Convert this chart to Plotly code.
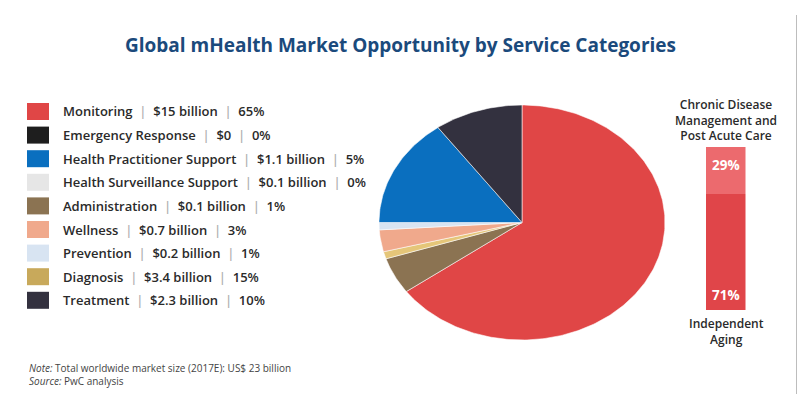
import numpy as np
import plotly.graph_objects as go

# ---------------- data ----------------
title_text = "Global mHealth Market Opportunity by Service Categories"

legend_names = ["Monitoring", "Emergency Response", "Health Practitioner Support",
                "Health Surveillance Support", "Administration", "Wellness",
                "Prevention", "Diagnosis", "Treatment"]
legend_amounts = ["$15 billion", "$0", "$1.1 billion", "$0.1 billion", "$0.1 billion",
                  "$0.7 billion", "$0.2 billion", "$3.4 billion", "$2.3 billion"]
legend_pcts = ["65%", "0%", "5%", "0%", "1%", "3%", "1%", "15%", "10%"]
legend_colors = ["#E04646", "#1E1E1E", "#0A6FBF", "#E6E6E6", "#8B7352",
                 "#F0A98C", "#D8E4F2", "#C8A95B", "#33313F"]

# pie slices as drawn (clockwise from 12 o'clock)
pie_labels = ["Monitoring", "Administration", "Diagnosis", "Wellness",
              "Prevention", "Health Practitioner Support", "Treatment"]
pie_values = [65, 5, 1, 3, 1, 15, 10]
pie_colors = ["#E04646", "#8B7352", "#E5C679", "#F0A98C", "#D8E4F2", "#0A6FBF", "#33313F"]

bar_labels = ["Independent Aging", "Chronic Disease Management and Post Acute Care"]
bar_values = [71, 29]
bar_colors = ["#E04549", "#EC6A6E"]
top_caption = ["Chronic Disease", "Management and", "Post Acute Care"]
bottom_caption = ["Independent", "Aging"]

note_line = "<i>Note:</i> Total worldwide market size (2017E): US$ 23 billion"
source_line = "<i>Source:</i> PwC analysis"

# ---------------- figure ----------------
W, H = 800, 394
fig = go.Figure()

# Pie (elliptical) drawn as filled wedges on a stretched axis pair
total = sum(pie_values)
start = 0.0
for lab, val, col in zip(pie_labels, pie_values, pie_colors):
    end = start + val / total * 2 * np.pi
    th = np.linspace(start, end, max(8, int(val * 4)))
    xs = np.concatenate([[0], np.sin(th), [0]])
    ys = np.concatenate([[0], np.cos(th), [0]])
    fig.add_trace(go.Scatter(x=xs, y=ys, fill="toself", fillcolor=col, mode="lines",
                             line=dict(color="rgba(255,255,255,0.7)", width=0.8),
                             name=lab, hoverinfo="name", showlegend=False,
                             xaxis="x", yaxis="y"))
    start = end

def px(x):
    return x / W

def py(y):
    return 1 - y / H

annotations = []
shapes = []

# Stacked bar
cum = 0
for i, (lab, val, col) in enumerate(zip(bar_labels, bar_values, bar_colors)):
    fig.add_trace(go.Bar(x=[0], y=[val], marker=dict(color=col, line=dict(width=0)),
                         width=1, name=lab, hoverinfo="name", showlegend=False,
                         xaxis="x2", yaxis="y2"))
    if i == 0:
        ya, ysh = cum, 15
    else:
        ya, ysh = cum + val, -18
    annotations.append(dict(x=0, y=ya, xref="x2", yref="y2", showarrow=False, yshift=ysh,
                            text=f"<b>{val}%</b>", xanchor="center", yanchor="middle",
                            font=dict(family="Open Sans", size=13.5, color="white")))
    cum += val

# Title
annotations.append(dict(x=0.5, y=py(45), xref="paper", yref="paper", showarrow=False,
                        text=f"<b>{title_text}</b>", xanchor="center", yanchor="middle",
                        font=dict(family="Open Sans", size=19, color="#1B4A7C")))

# Legend rows
sep = "<span style='color:#B0B0B0'>|</span>"
row0, drow = 111.5, 23.6
for i, (n, a, p, c) in enumerate(zip(legend_names, legend_amounts, legend_pcts, legend_colors)):
    yc = row0 + i * drow
    shapes.append(dict(type="rect", xref="paper", yref="paper",
                       x0=px(27), x1=px(49), y0=py(yc + 8.5), y1=py(yc - 8.5),
                       fillcolor=c, line=dict(width=0)))
    annotations.append(dict(x=px(61), y=py(yc), xref="paper", yref="paper", showarrow=False,
                            xanchor="left", yanchor="middle",
                            text=f"{n}  {sep}  {a}  {sep}  {p}",
                            font=dict(family="Open Sans", size=13, color="#2A2A2A", weight=600)))

# Bar captions
annotations.append(dict(x=px(726), y=py(119.5), xref="paper", yref="paper",
                        showarrow=False, xanchor="center", yanchor="middle",
                        text="<br>".join(top_caption),
                        font=dict(family="Open Sans", size=12, color="#2A2A2A", weight=600)))
annotations.append(dict(x=px(726), y=py(331.5), xref="paper", yref="paper",
                        showarrow=False, xanchor="center", yanchor="middle",
                        text="<br>".join(bottom_caption),
                        font=dict(family="Open Sans", size=12, color="#2A2A2A", weight=600)))

# Notes
annotations.append(dict(x=px(27), y=py(368), xref="paper", yref="paper", showarrow=False,
                        xanchor="left", yanchor="middle", text=note_line,
                        font=dict(family="Open Sans", size=10, color="#444444")))
annotations.append(dict(x=px(27), y=py(381), xref="paper", yref="paper", showarrow=False,
                        xanchor="left", yanchor="middle", text=source_line,
                        font=dict(family="Open Sans", size=10, color="#444444")))

# faint frame line on right
shapes.append(dict(type="line", xref="paper", yref="paper", x0=px(796.5), x1=px(796.5),
                   y0=0, y1=py(15), line=dict(color="#BDBDBD", width=1)))

hidden = dict(visible=False, showgrid=False, zeroline=False, fixedrange=True)
fig.update_layout(
    width=W, height=H, margin=dict(l=0, r=0, t=0, b=0),
    paper_bgcolor="white", plot_bgcolor="white",
    barmode="stack", showlegend=False,
    xaxis=dict(domain=[px(379), px(665)], range=[-1, 1], **hidden),
    yaxis=dict(domain=[py(340), py(105)], range=[-1, 1], **hidden),
    xaxis2=dict(domain=[px(705.5), px(745.5)], range=[-0.5, 0.5], anchor="y2", **hidden),
    yaxis2=dict(domain=[py(310), py(147)], range=[0, 100], anchor="x2", **hidden),
    annotations=annotations, shapes=shapes,
)

fig.write_html("out.html", config={"displayModeBar": False},
               post_script="document.body.style.margin='0';document.body.style.overflow='hidden';")
